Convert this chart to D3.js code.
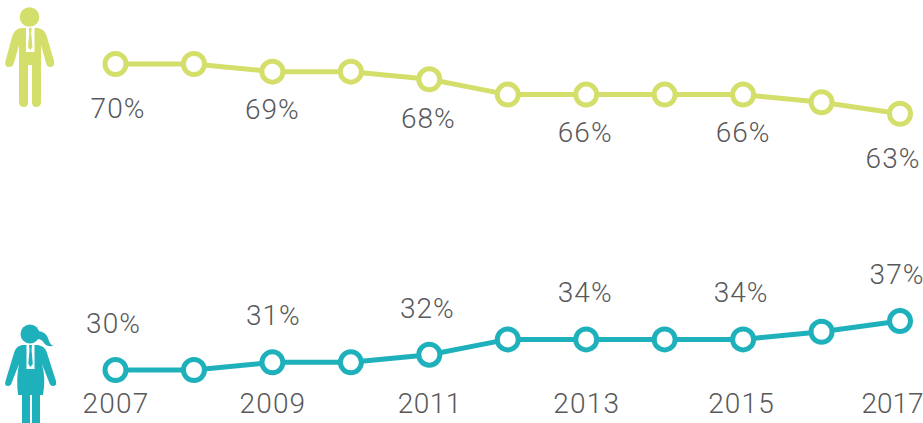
<!DOCTYPE html>
<html>
<head>
<meta charset="utf-8">
<script src="https://cdn.jsdelivr.net/npm/d3@7"></script>
<style>
html, body { margin: 0; padding: 0; background: #fff; overflow: hidden; }
svg { display: block; }
text { font-family: Roboto, sans-serif; font-weight: 300; fill: #58585a; }
</style>
</head>
<body>
<svg width="923" height="423"></svg>
<script>
// Values
var years = [2007, 2008, 2009, 2010, 2011, 2012, 2013, 2014, 2015, 2016, 2017];
var menShare = [70, 70, 69, 69, 68, 66, 66, 66, 66, 65, 63.5];
var womenShare = [30, 30, 31, 31, 32, 34, 34, 34, 34, 35, 36.4];
var labelledYears = [2007, 2009, 2011, 2013, 2015, 2017];
var menLabels = ['70%', '69%', '68%', '66%', '66%', '63%'];
var womenLabels = ['30%', '31%', '32%', '34%', '34%', '37%'];

var menColor = '#d4df6b';
var womenColor = '#1fb1bb';

var svg = d3.select('svg');

var xScale = d3.scaleLinear().domain([2007, 2017]).range([115.5, 900]);
// 70% sits at y=64 and 30% at y=370
var yScale = d3.scaleLinear().domain([70, 30]).range([64, 370]);

var line = d3.line()
    .x(function(d) { return xScale(d.year); })
    .y(function(d) { return yScale(d.value); });

function drawSeries(values, color, labels, labelDx, labelDy) {
    var points = years.map(function(y, i) {
        return {year: y, value: values[i]};
    });
    var g = svg.append('g');

    g.append('path')
        .datum(points)
        .attr('d', line)
        .attr('fill', 'none')
        .attr('stroke', color)
        .attr('stroke-width', 5);

    g.selectAll('circle')
        .data(points)
        .enter()
        .append('circle')
        .attr('cx', function(d) { return xScale(d.year); })
        .attr('cy', function(d) { return yScale(d.value); })
        .attr('r', 10.5)
        .attr('fill', '#fff')
        .attr('stroke', color)
        .attr('stroke-width', 5);

    g.selectAll('text')
        .data(labelledYears)
        .enter()
        .append('text')
        .attr('x', function(d, i) { return xScale(d) + labelDx[i]; })
        .attr('y', function(d, i) { return yScale(values[years.indexOf(d)]) + labelDy[i]; })
        .attr('text-anchor', 'middle')
        .style('font-size', '28px')
        .style('letter-spacing', '1px')
        .text(function(d, i) { return labels[i]; });
}

// Label nudges, the original labels were placed by hand
drawSeries(menShare, menColor, menLabels,
    [2.5, 0, -1, -1, 0, -7],
    [54, 47, 49, 47, 47, 54]);
drawSeries(womenShare, womenColor, womenLabels,
    [-2, 1, -2, -1, -2, -3],
    [-37, -37, -37, -37, -37, -37]);

// Year axis
var xAxis = d3.axisBottom(xScale)
    .tickValues(labelledYears)
    .tickFormat(d3.format('d'))
    .tickSize(0)
    .tickPadding(0);

var axisG = svg.append('g')
    .attr('transform', 'translate(0,393)')
    .call(xAxis);
axisG.select('.domain').remove();
axisG.selectAll('text')
    .attr('font-family', null)
    .style('font-size', '28px')
    .style('letter-spacing', function(d) {
        if (d === 2017) return '0px';
        return d === 2011 ? '0.5px' : '1.2px';
    })
    .attr('dx', function(d) {
        if (d === 2017) return -8;
        if (d === 2011) return 0;
        return d === 2015 ? -2 : 0;
    });

// Man icon
var man = svg.append('g').attr('fill', menColor);
man.append('circle').attr('cx', 29.5).attr('cy', 17).attr('r', 9.8);
man.append('path').attr('d',
    'M21 28 L38 28 Q45 29 47 37 L54 61 Q55 67 50 67 Q47 67 46 63 L41 45 L41 102 ' +
    'Q41 107 36 107 Q32 107 32 102 L32 65 L28 65 L28 102 Q28 107 24 107 ' +
    'Q19 107 19 102 L19 45 L14 63 Q13 67 9 67 Q4 67 5.5 61 L12 37 Q14 29 21 28 Z');
man.append('rect').attr('x', 26).attr('y', 28).attr('width', 8.5).attr('height', 24).attr('fill', '#fff');
man.append('path').attr('d', 'M28.7 28 L31.7 28 L31.2 33 L32.5 47 L30.2 50 L28 47 L29.3 33 Z');

// Woman icon
var woman = svg.append('g').attr('fill', womenColor);
woman.append('circle').attr('cx', 30).attr('cy', 334).attr('r', 9.5);
woman.append('path').attr('d',
    'M38 331 Q46 332 48 338 Q49 343 53 346 Q47 347 44 343 Q42 339 37 339 Z');
woman.append('path').attr('d',
    'M22 345 L38 345 Q45 346 47 353 L56 381 Q57 386 53 386 Q50 386 49 382 L42 364 ' +
    'Q46 378 43 395 L40 395 L40 423 L32 423 L32 395 L30 395 L30 423 L22 423 L22 395 L18 395 ' +
    'Q16 378 19 364 L12 382 Q11 386 8 386 Q4 386 5.5 381 L14 353 Q16 346 22 345 Z');
woman.append('rect').attr('x', 26.5).attr('y', 345).attr('width', 8).attr('height', 24).attr('fill', '#fff');
woman.append('path').attr('d', 'M29 345 L32 345 L31.6 350 L32.8 364 L30.5 367 L28.3 364 L29.5 350 Z');
</script>
</body>
</html>
